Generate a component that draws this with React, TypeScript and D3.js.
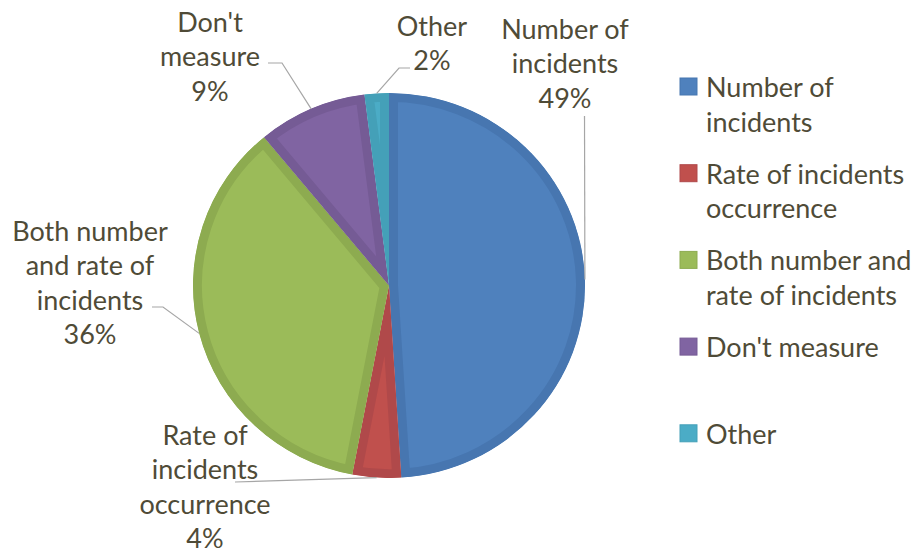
import React from "react";
import * as d3 from "d3";

const categories = [
  "Number of incidents",
  "Rate of incidents occurrence",
  "Both number and rate of incidents",
  "Don't measure",
  "Other",
];
const values = [49, 4, 36, 9, 2];
const fills = ["#4F81BD", "#C0504D", "#9BBB59", "#8064A2", "#4BACC6"];
const bands = ["#4776B0", "#B0494A", "#8DAB50", "#755B95", "#44A0B8"];
const labelLines = [
  ["Number of", "incidents", "49%"],
  ["Rate of", "incidents", "occurrence", "4%"],
  ["Both number", "and rate of", "incidents", "36%"],
  ["Don't", "measure", "9%"],
  ["Other", "2%"],
];
const legendLines = [
  ["Number of", "incidents"],
  ["Rate of incidents", "occurrence"],
  ["Both number and", "rate of incidents"],
  ["Don't measure"],
  ["Other"],
];

// layout (label placement as in the original, manual)
const W = 919, H = 552;
const CX = 389, CY = 285.5, R = 196, RY = 192.5;
const FONT = "Lato, 'Open Sans', sans-serif";
const FS = 27;
const LH = 34.5;
const TEXT = "#4F4B37";
const labelPos = [
  { x: 565, y: 28, lead: [[584.5, 116]] },
  { x: 205, y: 434, lead: [[235, 482]] },
  { x: 90, y: 230, lead: [[152, 307], [163, 307]] },
  { x: 210, y: 21, lead: [[268, 63], [282, 63]] },
  { x: 432, y: 25, lead: [[410, 68], [399, 68]] },
];

export default function App() {
  const pie = d3.pie<number>().sort(null).value((d) => d)(values);
  const arc = d3.arc<d3.PieArcDatum<number>>().innerRadius(0).outerRadius(R);
  const sy = RY / R;
  const legendX = 680;
  const legendY0 = 86.5;
  const legendStep = 86.7;

  return (
    <svg
      width={W}
      height={H}
      style={{ position: "absolute", left: 0, top: 0, background: "#fff" }}
      fontFamily={FONT}
    >
      <defs>
        {pie.map((p, i) => (
          <clipPath id={`clip${i}`} key={i}>
            <path d={arc(p) || ""} />
          </clipPath>
        ))}
      </defs>
      <g transform={`translate(${CX},${CY}) scale(1,${sy})`}>
        {pie.map((p, i) => (
          <path
            key={i}
            d={arc(p) || ""}
            fill={fills[i]}
            stroke={bands[i]}
            strokeWidth={18}
            strokeLinejoin="round"
            clipPath={`url(#clip${i})`}
          />
        ))}
      </g>
      {pie.map((p, i) => {
        const a = (p.startAngle + p.endAngle) / 2;
        const ex = CX + R * Math.sin(a);
        const ey = CY - RY * Math.cos(a);
        const pts = [...labelPos[i].lead, [ex, ey]];
        const line = d3.line()(pts as [number, number][]);
        return (
          <path key={i} d={line || ""} fill="none" stroke="#A6A6A6" strokeWidth={1.2} />
        );
      })}
      {labelLines.map((lines, i) => (
        <text
          key={i}
          textAnchor="middle"
          fontSize={FS}
          fill={TEXT}
        >
          {lines.map((l, j) => (
            <tspan key={j} x={labelPos[i].x} y={labelPos[i].y + j * LH} dominantBaseline="central">
              {l}
            </tspan>
          ))}
        </text>
      ))}
      {categories.map((c, i) => {
        const y = legendY0 + i * legendStep;
        return (
          <g key={c}>
            <rect x={legendX} y={y - 8.5} width={17} height={17} fill={fills[i]} stroke={bands[i]} strokeWidth={1} />
            <text fontSize={FS} fill={TEXT}>
              {legendLines[i].map((l, j) => (
                <tspan key={j} x={706} y={y + j * LH} dominantBaseline="central">
                  {l}
                </tspan>
              ))}
            </text>
          </g>
        );
      })}
    </svg>
  );
}
